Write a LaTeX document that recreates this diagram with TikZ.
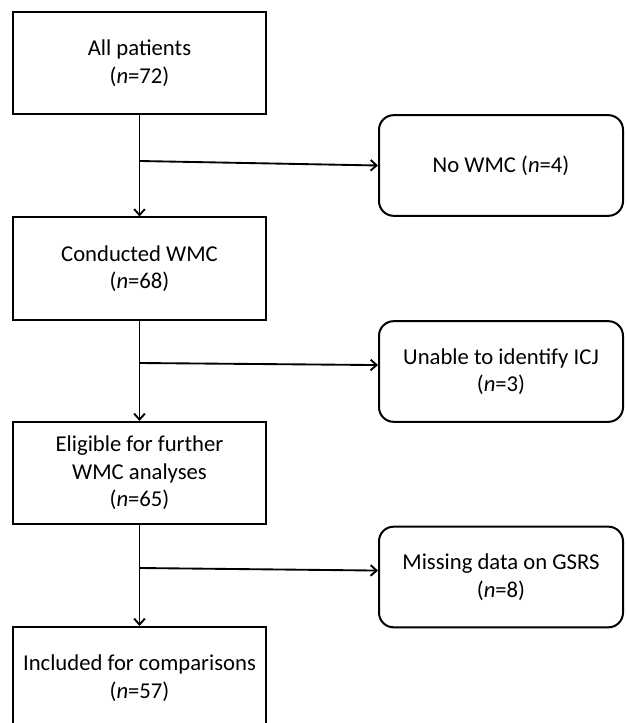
\documentclass[tikz,border=0pt]{standalone}
\usepackage{fontspec}
\setmainfont{Carlito}
\usetikzlibrary{arrows.meta}

\begin{document}
\begin{tikzpicture}[x=0.75pt,y=-0.75pt]
      \clip (0,0) rectangle (626,723);
      \tikzset{B/.style = {shape=rectangle, draw, line width=1.5pt, minimum width=190pt, minimum height=76.5pt, inner sep=0pt, align=center, font=\fontsize{17}{20.6}\selectfont}}
      \tikzset{R/.style = {B, rounded corners=11pt, minimum width=183pt, minimum height=75.5pt}}
      \tikzset{E/.style = {draw, line width=1.4pt, -{Straight Barb[length=4.5pt,width=8pt]}}}
      \node[B](n0) at (139.5,63) {All patients\\(\textit{n}=72)};
      \node[B](n1) at (139.5,268.5) {Conducted WMC\\(\textit{n}=68)};
      \node[B](n2) at (139.5,473) {Eligible for further\\WMC analyses\\(\textit{n}=65)};
      \node[B](n3) at (139.5,678) {Included for comparisons\\(\textit{n}=57)};
      \node[R](r0) at (501,165.5) {No WMC (\textit{n}=4)};
      \node[R](r1) at (501,371.5) {Unable to identify ICJ\\(\textit{n}=3)};
      \node[R](r2) at (501,577) {Missing data on GSRS\\(\textit{n}=8)};
      \coordinate (c0) at (139.5,161);
      \coordinate (c1) at (139.5,363);
      \coordinate (c2) at (139.5,568);
      \draw[E](n0) to (n1);
      \draw[E](n1) to (n2);
      \draw[E](n2) to (n3);
      \draw[E](c0) to (r0.west);
      \draw[E](c1) to (r1.177.5);
      \draw[E](c2) to (r2.177.5);
    \end{tikzpicture}
\end{document}
